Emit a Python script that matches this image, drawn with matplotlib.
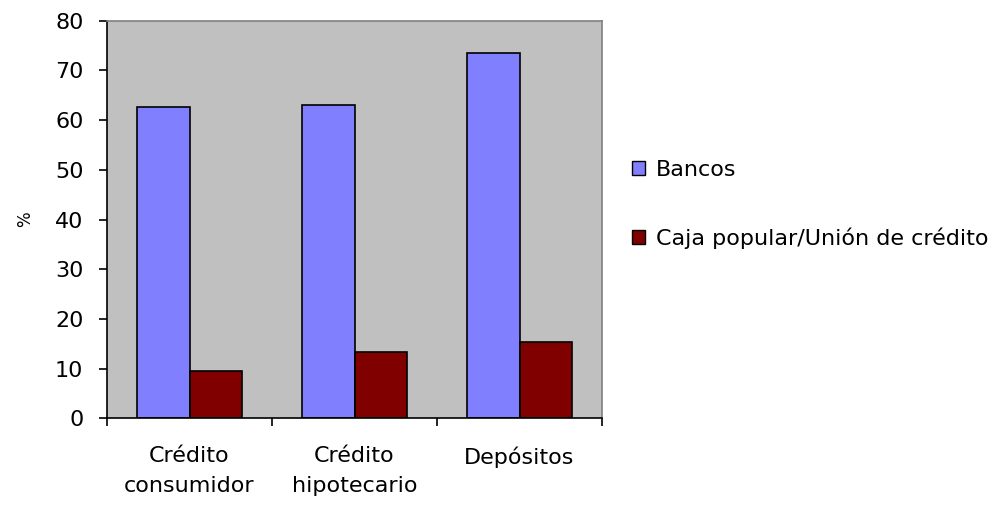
import numpy as np
import matplotlib.pyplot as plt
from matplotlib.patches import Patch

# Market share by type of institution (%)
categories = ['Crédito\nconsumidor', 'Crédito\nhipotecario', 'Depósitos']
series_names = ['Bancos', 'Caja popular/Unión de crédito']
bancos = [62.7, 63.0, 73.6]
caja_popular = [9.6, 13.3, 15.3]
y_ticks = [0, 10, 20, 30, 40, 50, 60, 70, 80]

blue = '#8080FF'
dark_red = '#800000'

plt.rcParams['font.family'] = ['DejaVu Sans']

fig = plt.figure(figsize=(10.03, 5.08), dpi=100)
ax = fig.add_axes([107 / 1003, 89.7 / 508, 495 / 1003, 397.6 / 508])
ax.set_facecolor('#C0C0C0')

x = np.arange(len(categories))
w = 0.32
ax.bar(x - w / 2, bancos, width=w, color=blue, edgecolor='black', linewidth=1.2, zorder=2)
ax.bar(x + w / 2, caja_popular, width=w, color=dark_red, edgecolor='black', linewidth=1.2, zorder=2)

ax.set_xlim(-0.5, len(categories) - 0.5)
ax.set_ylim(0, 80)
ax.set_yticks(y_ticks)
ax.tick_params(axis='y', direction='out', length=6, width=1.2, labelsize=16, pad=11, colors='black')

# category labels centred, tick marks at the boundaries
ax.set_xticks(x)
ax.set_xticklabels(categories, fontsize=16, linespacing=1.65)
ax.tick_params(axis='x', which='major', length=0, pad=20)
ax.set_xticks(np.arange(-0.5, len(categories)), minor=True)
ax.tick_params(axis='x', which='minor', direction='out', length=6, width=1.2)

for side in ['left', 'bottom']:
    ax.spines[side].set_color('black')
    ax.spines[side].set_linewidth(1.2)
for side in ['top', 'right']:
    ax.spines[side].set_color('#808080')
    ax.spines[side].set_linewidth(1.2)

ax.set_ylabel('%', fontsize=12, labelpad=15)

handles = [Patch(facecolor=blue, edgecolor='black', linewidth=1),
           Patch(facecolor=dark_red, edgecolor='black', linewidth=1)]
fig.legend(handles, series_names, loc='center left',
           bbox_to_anchor=(632 / 1003, 1 - 204.5 / 508), frameon=False,
           fontsize=16, handlelength=0.58, handleheight=0.58, handletextpad=0.5,
           labelspacing=2.15, borderpad=0, borderaxespad=0)

fig.savefig('out.png', dpi=100, facecolor='white')
